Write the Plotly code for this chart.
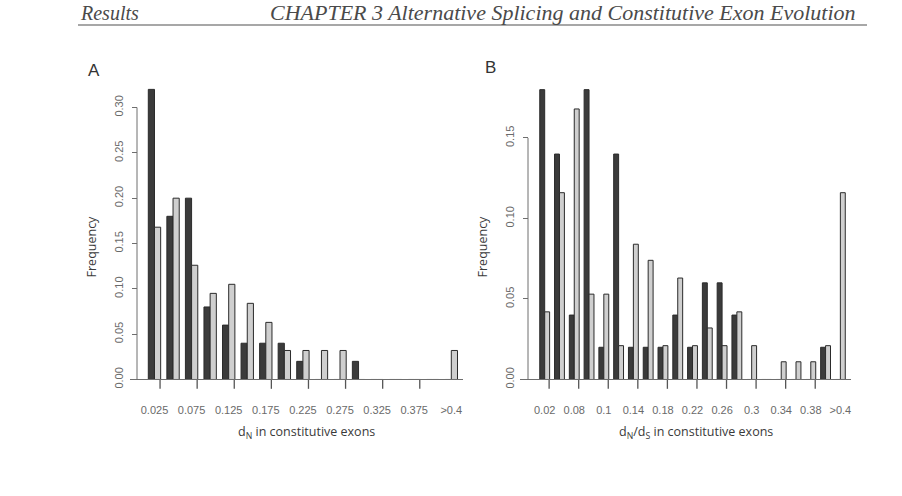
import plotly.graph_objects as go

# ---------------- data ----------------
a_tick_labels = ["0.025", "0.075", "0.125", "0.175", "0.225", "0.275", "0.325", "0.375", ">0.4"]
a_dark = [0.32, 0.18, 0.20, 0.08, 0.06, 0.04, 0.04, 0.04, 0.02, 0, 0, 0.02, 0, 0, 0, 0, 0]
a_light = [0.168, 0.200, 0.126, 0.095, 0.105, 0.084, 0.063, 0.032, 0.032, 0.032, 0.032, 0, 0, 0, 0, 0, 0.032]

b_tick_labels = ["0.02", "0.08", "0.1", "0.14", "0.18", "0.22", "0.26", "0.3", "0.34", "0.38", ">0.4"]
b_dark = [0.18, 0.14, 0.04, 0.18, 0.02, 0.14, 0.02, 0.02, 0.02, 0.04, 0.02, 0.06, 0.06, 0.04, 0, 0, 0, 0, 0, 0.02, 0]
b_light = [0.042, 0.116, 0.168, 0.053, 0.053, 0.021, 0.084, 0.074, 0.021, 0.063, 0.021, 0.032, 0.021, 0.042,
           0.021, 0, 0.011, 0.011, 0.011, 0.021, 0.116]

a_yticks = [0.00, 0.05, 0.10, 0.15, 0.20, 0.25, 0.30]
b_yticks = [0.00, 0.05, 0.10, 0.15]

# ---------------- style ----------------
W, H = 902, 496
DARK = "#3b3b3b"
LIGHT = "#cfcfcf"
EDGE = "#2b2b2b"
AXC = "#6e6e6e"
TICKFONT = dict(family="Liberation Sans, Arial, sans-serif", size=11, color="#6a6a6a")
TITLEFONT = dict(family="Open Sans, Noto Sans, sans-serif", size=12.5, color="#3a3a3a")

def px_x(p):
    return p / W

def px_y(p):
    return 1 - p / H

ydom = [px_y(386.5), px_y(85)]

na = len(a_dark)
nb = len(b_dark)
xa = list(range(na))
xb = list(range(nb))

fig = go.Figure()
fig.add_trace(go.Bar(x=xa, y=a_dark, xaxis="x", yaxis="y", marker=dict(color=DARK, line=dict(color=EDGE, width=1)), showlegend=False))
fig.add_trace(go.Bar(x=xa, y=a_light, xaxis="x", yaxis="y", marker=dict(color=LIGHT, line=dict(color=EDGE, width=1)), showlegend=False))
fig.add_trace(go.Bar(x=xb, y=b_dark, xaxis="x2", yaxis="y2", marker=dict(color=DARK, line=dict(color=EDGE, width=1)), showlegend=False))
fig.add_trace(go.Bar(x=xb, y=b_light, xaxis="x2", yaxis="y2", marker=dict(color=LIGHT, line=dict(color=EDGE, width=1)), showlegend=False))

a_range = [-1.32, 16.63]
b_range = [-1.67, 20.72]
a_dom = [px_x(130), px_x(463)]
b_dom = [px_x(520), px_x(851)]
a_tickpos = [k for k in range(0, na, 2)]
b_tickpos = [k for k in range(0, nb, 2)]

def xaxis_cfg(domain, rng, anchor, tickpos, ticktext):
    return dict(domain=domain, range=rng, anchor=anchor,
                showline=True, linecolor=AXC, linewidth=1,
                tickmode="array", tickvals=tickpos, ticktext=ticktext, ticks="",
                tickfont=TICKFONT, ticklabelstandoff=20,
                showgrid=False, zeroline=False, fixedrange=True)

def yaxis_cfg(rng, pos, ticks):
    return dict(domain=ydom, range=rng, anchor="free", position=pos,
                tickmode="array", tickvals=ticks, ticktext=[f"{v:.2f}" for v in ticks],
                tickangle=-90, ticks="outside", ticklen=5, tickcolor=AXC, tickfont=TICKFONT,
                ticklabelstandoff=5,
                showline=False, showgrid=False, zeroline=False, fixedrange=True)

fig.update_layout(
    width=W, height=H,
    margin=dict(l=0, r=0, t=0, b=0),
    paper_bgcolor="white", plot_bgcolor="white",
    barmode="group", bargap=1/3, bargroupgap=0,
    xaxis=xaxis_cfg(a_dom, a_range, "y", a_tickpos, a_tick_labels),
    yaxis=yaxis_cfg([0, 301.5 / 923.3], px_x(137), a_yticks),
    xaxis2=xaxis_cfg(b_dom, b_range, "y2", b_tickpos, b_tick_labels),
    yaxis2=yaxis_cfg([0, 301.5 / 1640], px_x(528), b_yticks),
)

def to_paper(v, dom, rng):
    return dom[0] + (v - rng[0]) / (rng[1] - rng[0]) * (dom[1] - dom[0])

# x tick marks (R draws them offset from the label centres)
shapes = []
for dom, rng, tickpos in ((a_dom, a_range, a_tickpos), (b_dom, b_range, b_tickpos)):
    for k in tickpos[:-1]:
        xp = to_paper(k + 0.3, dom, rng)
        shapes.append(dict(type="line", xref="paper", yref="paper", layer="above",
                           x0=xp, x1=xp, y0=px_y(387), y1=px_y(396),
                           line=dict(color="#555555", width=1.3)))

# partial y-axis lines (R style: span only the tick range)
shapes.append(dict(type="line", xref="paper", yref="y", x0=px_x(137), x1=px_x(137), y0=0, y1=a_yticks[-1],
                   line=dict(color=AXC, width=1)))
shapes.append(dict(type="line", xref="paper", yref="y2", x0=px_x(528), x1=px_x(528), y0=0, y1=b_yticks[-1],
                   line=dict(color=AXC, width=1)))
# header rule
shapes.append(dict(type="line", xref="paper", yref="paper", x0=px_x(78), x1=px_x(867),
                   y0=px_y(25.5), y1=px_y(25.5), line=dict(color="#8a8a8a", width=1.5)))
fig.update_layout(shapes=shapes)

HEADFONT = dict(family="Liberation Serif, Times New Roman, serif", size=20, color="#4a4a4a")
HEADFONT2 = dict(HEADFONT, size=22)
annotations = [
    dict(text="<i>Results</i>", x=px_x(78), y=px_y(13), xanchor="left", yanchor="middle", font=HEADFONT),
    dict(text="<i>CHAPTER 3 Alternative Splicing and Constitutive Exon Evolution</i>", x=px_x(268), y=px_y(13),
         xanchor="left", yanchor="middle", font=HEADFONT2),
    dict(text="A", x=px_x(94), y=px_y(72), xanchor="center", yanchor="middle",
         font=dict(family="Liberation Sans, Arial, sans-serif", size=17, color="#333333")),
    dict(text="B", x=px_x(490), y=px_y(69), xanchor="center", yanchor="middle",
         font=dict(family="Liberation Sans, Arial, sans-serif", size=17, color="#333333")),
    dict(text="d<sub>N</sub> in constitutive exons", x=px_x(306), y=px_y(441), xanchor="center", yanchor="middle",
         font=TITLEFONT),
    dict(text="d<sub>N</sub>/d<sub>S</sub> in constitutive exons", x=px_x(696), y=px_y(441), xanchor="center",
         yanchor="middle", font=TITLEFONT),
    dict(text="Frequency", x=px_x(91), y=px_y(251), textangle=-90, xanchor="center", yanchor="middle",
         font=TITLEFONT),
    dict(text="Frequency", x=px_x(482), y=px_y(251), textangle=-90, xanchor="center", yanchor="middle",
         font=TITLEFONT),
]
for a in annotations:
    a.update(xref="paper", yref="paper", showarrow=False)
fig.update_layout(annotations=annotations)

fig.write_html("out.html", config={"displayModeBar": False})
